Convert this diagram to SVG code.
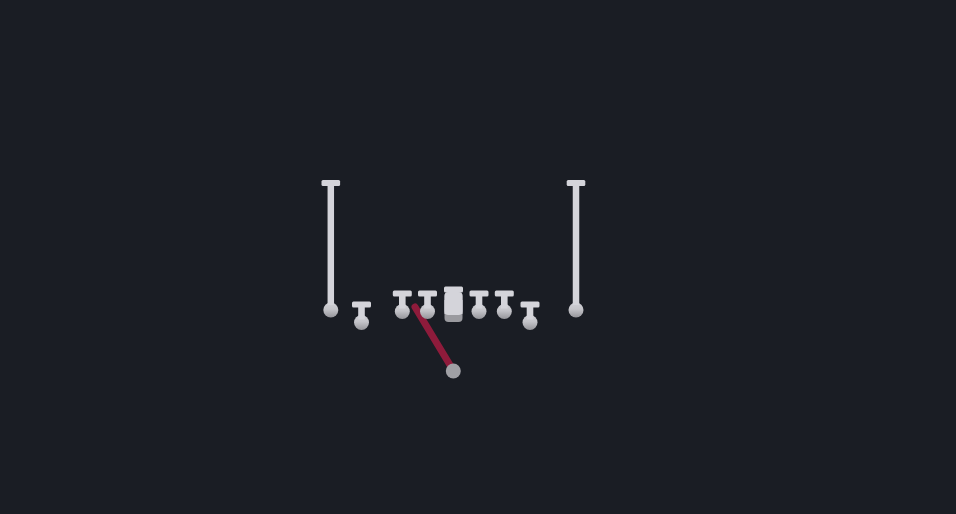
<svg xmlns="http://www.w3.org/2000/svg" width="956" height="514" viewBox="0 0 956 514">
<defs>
<linearGradient id="dotg" x1="0" y1="0" x2="0" y2="1">
<stop offset="0" stop-color="#d0d0d6"/>
<stop offset="0.45" stop-color="#c4c4c9"/>
<stop offset="1" stop-color="#95959a"/>
</linearGradient>
<g id="p-short">
<circle cx="0" cy="0" r="7.5" fill="url(#dotg)"/>
<rect x="-3.3" y="-17" width="6.6" height="14" fill="#d4d4da"/>
<rect x="-9.5" y="-21" width="19" height="6" rx="1.5" fill="#d4d4da"/>
</g>
</defs>
<style>
.bar{fill:#d4d4da}
.stem{stroke:#d4d4da;stroke-width:6.5;stroke-linecap:butt}
.dot{fill:url(#dotg)}
.route{stroke:#8e1b3b;stroke-width:7;stroke-linecap:round;fill:none}
</style>
<rect width="956" height="514" fill="#1a1d24"/>
<g id="connectors">
<line class="route" x1="415" y1="307" x2="453" y2="370"/>
</g>
<g id="wr-left">
<circle class="dot" cx="330.8" cy="310" r="7.5"/>
<line class="stem" x1="330.8" y1="185" x2="330.8" y2="305"/>
<rect class="bar" x="321.5" y="180" width="18.6" height="6" rx="1.5"/>
</g>
<g id="te-left"><use href="#p-short" x="361.5" y="322.5"/></g>
<g id="lt"><use href="#p-short" x="402.3" y="311.5"/></g>
<g id="lg"><use href="#p-short" x="427.5" y="311.5"/></g>
<g id="center">
<rect x="444.5" y="292" width="18" height="30" rx="4" fill="#9a9a9f"/>
<rect class="bar" x="444.5" y="292" width="18" height="23" rx="4"/>
<rect class="bar" x="444.5" y="300" width="18" height="14"/>
<rect class="bar" x="444" y="286.5" width="19" height="6" rx="1.5"/>
</g>
<g id="rg"><use href="#p-short" x="479" y="311.5"/></g>
<g id="rt"><use href="#p-short" x="504.3" y="311.5"/></g>
<g id="te-right"><use href="#p-short" x="530" y="322.5"/></g>
<g id="wr-right">
<circle class="dot" cx="576" cy="310" r="7.5"/>
<line class="stem" x1="576" y1="185" x2="576" y2="305"/>
<rect class="bar" x="566.7" y="180" width="18.6" height="6" rx="1.5"/>
</g>
<g id="qb">
<circle cx="453.3" cy="371" r="7.5" fill="#a0a0a5"/>
</g>
</svg>
